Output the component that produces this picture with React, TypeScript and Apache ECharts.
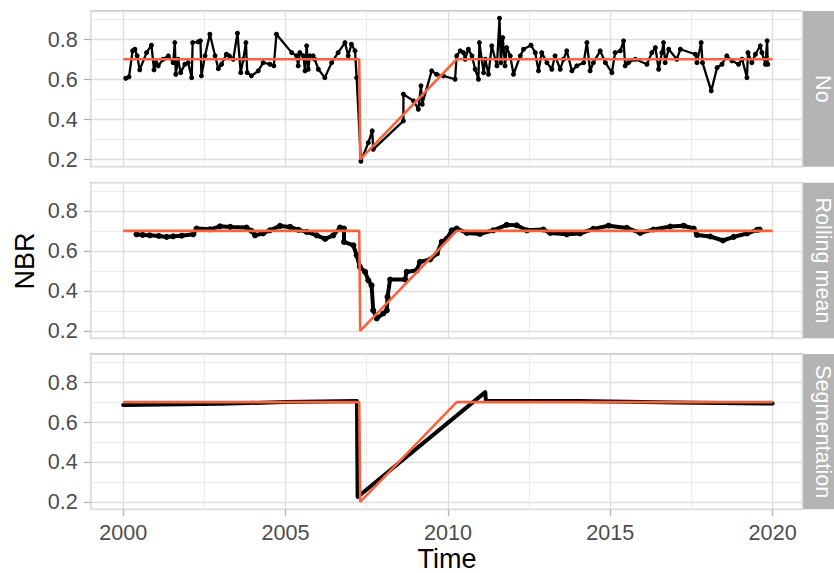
import React, { useEffect, useRef } from "react";
import * as echarts from "echarts";

const facetLabels = ["No", "Rolling mean", "Segmentation"];
const xBreaks = [2000, 2005, 2010, 2015, 2020];
const yBreaks = [0.2, 0.4, 0.6, 0.8];

// True (simulated) NBR trajectory, drawn in red in every panel
const referenceLine: number[][] = [
  [2000.0, 0.7], [2007.27, 0.7], [2007.3, 0.2], [2010.27, 0.7], [2020.0, 0.7],
];

// "No" smoothing: raw observations
const rawObs: number[][] = [
  [2000.08, 0.605], [2000.18, 0.612], [2000.29, 0.742], [2000.36, 0.75], [2000.43, 0.717],
  [2000.51, 0.647], [2000.72, 0.733], [2000.87, 0.77], [2000.95, 0.647], [2001.01, 0.683],
  [2001.08, 0.667], [2001.23, 0.70], [2001.39, 0.717], [2001.54, 0.683], [2001.59, 0.783],
  [2001.62, 0.625], [2001.69, 0.70], [2001.77, 0.633], [2001.9, 0.675], [2002.0, 0.683],
  [2002.11, 0.608], [2002.14, 0.783], [2002.31, 0.787], [2002.38, 0.792], [2002.41, 0.617],
  [2002.52, 0.717], [2002.67, 0.825], [2002.83, 0.717], [2002.93, 0.653], [2003.03, 0.675],
  [2003.18, 0.725], [2003.27, 0.717], [2003.39, 0.70], [2003.52, 0.83], [2003.62, 0.633],
  [2003.7, 0.70], [2003.78, 0.783], [2003.82, 0.633], [2003.95, 0.617], [2004.16, 0.642],
  [2004.31, 0.683], [2004.52, 0.675], [2004.64, 0.667], [2004.72, 0.825], [2005.19, 0.733],
  [2005.34, 0.717], [2005.39, 0.667], [2005.44, 0.733], [2005.55, 0.717], [2005.6, 0.642],
  [2005.65, 0.767], [2005.7, 0.65], [2005.75, 0.717], [2005.85, 0.717], [2005.9, 0.70],
  [2006.01, 0.65], [2006.21, 0.608], [2006.42, 0.683], [2006.62, 0.733], [2006.83, 0.783],
  [2006.93, 0.717], [2007.03, 0.775], [2007.14, 0.742], [2007.19, 0.608], [2007.32, 0.19],
  [2007.55, 0.283], [2007.67, 0.342], [2007.7, 0.25], [2008.63, 0.392], [2008.63, 0.525],
  [2008.94, 0.492], [2009.09, 0.45], [2009.17, 0.567], [2009.21, 0.475], [2009.5, 0.642],
  [2009.65, 0.625], [2009.86, 0.617], [2010.22, 0.60], [2010.27, 0.717], [2010.38, 0.742],
  [2010.48, 0.733], [2010.53, 0.70], [2010.63, 0.75], [2010.74, 0.717], [2010.84, 0.65],
  [2010.94, 0.60], [2010.97, 0.783], [2011.1, 0.633], [2011.15, 0.70], [2011.25, 0.625],
  [2011.35, 0.767], [2011.51, 0.667], [2011.59, 0.905], [2011.63, 0.683], [2011.69, 0.808],
  [2011.76, 0.667], [2011.81, 0.758], [2011.92, 0.717], [2012.02, 0.625], [2012.23, 0.717],
  [2012.33, 0.75], [2012.56, 0.77], [2012.69, 0.733], [2012.79, 0.642], [2012.89, 0.733],
  [2013.05, 0.683], [2013.2, 0.65], [2013.3, 0.717], [2013.46, 0.65], [2013.56, 0.70],
  [2013.66, 0.742], [2013.82, 0.642], [2013.97, 0.667], [2014.18, 0.683], [2014.28, 0.783],
  [2014.38, 0.642], [2014.48, 0.683], [2014.69, 0.742], [2014.85, 0.683], [2015.05, 0.633],
  [2015.15, 0.733], [2015.31, 0.742], [2015.41, 0.792], [2015.46, 0.667], [2015.56, 0.683],
  [2015.77, 0.70], [2016.13, 0.675], [2016.28, 0.733], [2016.39, 0.758], [2016.49, 0.65],
  [2016.59, 0.733], [2016.64, 0.783], [2016.69, 0.683], [2016.8, 0.75], [2017.05, 0.70],
  [2017.16, 0.75], [2017.62, 0.725], [2017.67, 0.683], [2017.8, 0.783], [2017.84, 0.683],
  [2018.11, 0.542], [2018.29, 0.658], [2018.44, 0.675], [2018.59, 0.717], [2018.75, 0.692],
  [2018.95, 0.675], [2019.06, 0.70], [2019.21, 0.608], [2019.24, 0.733], [2019.36, 0.683],
  [2019.47, 0.725], [2019.62, 0.767], [2019.67, 0.733], [2019.78, 0.675], [2019.83, 0.792],
  [2019.85, 0.675],
];

// "Rolling mean" smoothing
const rollingObs: number[][] = [
  [2000.41, 0.683], [2000.6, 0.68], [2000.82, 0.678], [2001.1, 0.675], [2001.34, 0.67],
  [2001.54, 0.673], [2001.8, 0.676], [2002.16, 0.683], [2002.26, 0.712], [2002.67, 0.708],
  [2002.98, 0.723], [2003.3, 0.72], [2003.8, 0.717], [2003.95, 0.7], [2004.06, 0.678],
  [2004.31, 0.687], [2004.52, 0.703], [2004.83, 0.725], [2005.14, 0.72], [2005.4, 0.705],
  [2005.65, 0.695], [2005.96, 0.678], [2006.22, 0.66], [2006.47, 0.678], [2006.68, 0.717],
  [2006.8, 0.712], [2006.8, 0.645], [2007.09, 0.628], [2007.19, 0.578], [2007.29, 0.52],
  [2007.45, 0.495], [2007.55, 0.453], [2007.65, 0.428], [2007.7, 0.303], [2007.81, 0.262],
  [2008.01, 0.287], [2008.12, 0.303], [2008.14, 0.37], [2008.22, 0.457], [2008.68, 0.457],
  [2008.73, 0.495], [2009.04, 0.503], [2009.14, 0.545], [2009.45, 0.557], [2009.66, 0.587],
  [2009.81, 0.645], [2009.97, 0.662], [2010.12, 0.703], [2010.27, 0.712], [2010.58, 0.69],
  [2010.99, 0.685], [2011.4, 0.703], [2011.81, 0.73], [2012.12, 0.728], [2012.43, 0.703],
  [2012.94, 0.707], [2013.15, 0.69], [2013.66, 0.683], [2014.07, 0.687], [2014.48, 0.71],
  [2014.95, 0.726], [2015.51, 0.715], [2015.92, 0.69], [2016.33, 0.707], [2016.85, 0.722],
  [2017.26, 0.726], [2017.57, 0.712], [2017.67, 0.68], [2018.08, 0.672], [2018.47, 0.652],
  [2018.8, 0.67], [2019.21, 0.687], [2019.52, 0.705], [2019.6, 0.707],
];

// "Segmentation" smoothing
const segmentObs: number[][] = [
  [2000.0, 0.686], [2003.0, 0.692], [2005.0, 0.7], [2007.2, 0.706], [2007.22, 0.225],
  [2011.15, 0.75], [2011.17, 0.705], [2014.0, 0.705], [2017.0, 0.698], [2020.0, 0.693],
];

const FONT = "Liberation Sans, Arial, sans-serif";
const X_MIN = 1999.0;
const X_MAX = 2020.92;
const Y_MIN = 0.163;
const Y_MAX = 0.941;

export default function App() {
  const ref = useRef<HTMLDivElement>(null);

  useEffect(() => {
    if (!ref.current) return;
    const chart = echarts.init(ref.current, undefined, { renderer: "svg" });

    const left = 90.7;
    const width = 711.8;
    const panels = [
      { top: 11, height: 155.7 },
      { top: 182.7, height: 155.6 },
      { top: 354, height: 155.3 },
    ];

    const grids = panels.map((p) => ({
      left,
      top: p.top,
      width,
      height: p.height,
      show: true,
      backgroundColor: "#ffffff",
      borderColor: "#B3B3B3",
      borderWidth: 1.3,
      containLabel: false,
    }));

    const xAxes = panels.map((_, i) => ({
      type: "value",
      gridIndex: i,
      min: X_MIN,
      max: X_MAX,
      splitNumber: 5,
      axisLine: { show: false },
      axisTick: {
        show: i === 2,
        length: 7,
        lineStyle: { color: "#B3B3B3", width: 1.3 },
      },
      axisLabel: {
        show: i === 2,
        margin: 12,
        color: "#4D4D4D",
        fontSize: 21.6,
        fontFamily: FONT,
        showMinLabel: false,
        showMaxLabel: false,
        formatter: (v: number) =>
          xBreaks.some((b) => Math.abs(b - v) < 1e-6) ? String(Math.round(v)) : "",
      },
      splitLine: { show: true, lineStyle: { color: "#DEDEDE", width: 1.3 } },
      minorTick: { show: false, splitNumber: 2 },
      minorSplitLine: { show: true, lineStyle: { color: "#E6E6E6", width: 0.8 } },
    }));

    const yAxes = panels.map((_, i) => ({
      type: "value",
      gridIndex: i,
      min: Y_MIN,
      max: Y_MAX,
      splitNumber: 4,
      axisLine: { show: false },
      axisTick: { show: true, length: 7, lineStyle: { color: "#B3B3B3", width: 1.3 } },
      axisLabel: {
        margin: 13,
        color: "#4D4D4D",
        fontSize: 21.6,
        fontFamily: FONT,
        showMinLabel: false,
        showMaxLabel: false,
        formatter: (v: number) =>
          yBreaks.some((b) => Math.abs(b - v) < 1e-6) ? v.toFixed(1) : "",
      },
      splitLine: { show: true, lineStyle: { color: "#DEDEDE", width: 1.3 } },
      minorTick: { show: false, splitNumber: 2 },
      minorSplitLine: { show: true, lineStyle: { color: "#E6E6E6", width: 0.8 } },
    }));

    const black = "#000000";
    const red = "#F8633F";

    const series: any[] = [
      {
        type: "line",
        xAxisIndex: 0,
        yAxisIndex: 0,
        data: rawObs,
        symbol: "circle",
        symbolSize: 5,
        showSymbol: true,
        itemStyle: { color: black },
        lineStyle: { color: black, width: 2.3 },
      },
      {
        type: "line",
        xAxisIndex: 1,
        yAxisIndex: 1,
        data: rollingObs,
        symbol: "circle",
        symbolSize: 6,
        showSymbol: true,
        itemStyle: { color: black },
        lineStyle: { color: black, width: 4 },
      },
      {
        type: "line",
        xAxisIndex: 2,
        yAxisIndex: 2,
        data: segmentObs,
        symbol: "none",
        itemStyle: { color: black },
        lineStyle: { color: black, width: 4, cap: "round", join: "round" },
      },
    ];
    panels.forEach((_, i) => {
      series.push({
        type: "line",
        xAxisIndex: i,
        yAxisIndex: i,
        data: referenceLine,
        symbol: "none",
        itemStyle: { color: red },
        lineStyle: { color: red, width: 2.6 },
        z: 5,
      });
    });

    const graphics: any[] = [];
    panels.forEach((p, i) => {
      graphics.push({
        type: "rect",
        shape: { x: 803, y: p.top, width: 40, height: p.height },
        style: { fill: "#B3B3B3" },
        silent: true,
      });
      graphics.push({
        type: "text",
        x: 823,
        y: p.top + p.height / 2,
        rotation: -Math.PI / 2,
        style: {
          text: facetLabels[i],
          fill: "#ffffff",
          font: `21.6px ${FONT}`,
          align: "center",
          verticalAlign: "middle",
        },
        silent: true,
      });
    });
    graphics.push({
      type: "text",
      x: 25,
      y: 261,
      rotation: Math.PI / 2,
      style: {
        text: "NBR",
        fill: "#000000",
        font: `27px ${FONT}`,
        align: "center",
        verticalAlign: "middle",
      },
    });
    graphics.push({
      type: "text",
      x: 447,
      y: 559,
      style: {
        text: "Time",
        fill: "#000000",
        font: `27px ${FONT}`,
        align: "center",
        verticalAlign: "middle",
      },
    });

    chart.setOption({
      animation: false,
      backgroundColor: "#ffffff",
      grid: grids,
      xAxis: xAxes,
      yAxis: yAxes,
      series,
      graphic: graphics,
    });

    return () => chart.dispose();
  }, []);

  return (
    <div
      ref={ref}
      style={{ position: "absolute", left: 0, top: 0, width: 834, height: 573 }}
    />
  );
}
